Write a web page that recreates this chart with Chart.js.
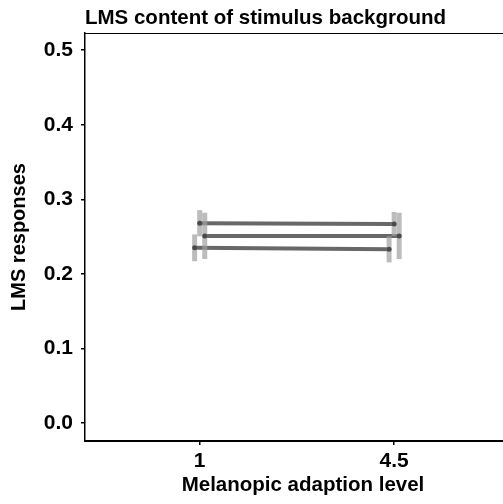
<!DOCTYPE html>
<html>
<head>
<meta charset="utf-8">
<script src="https://cdn.jsdelivr.net/npm/chart.js@4/dist/chart.umd.min.js"></script>
<style>
html,body{margin:0;padding:0;background:#fff;overflow:hidden;}
canvas{display:block;}
</style>
</head>
<body>
<canvas id="c" width="503" height="504"></canvas>
<script>
// ---- data ----
const categories = ["1", "4.5"];
const seriesNames = ["S", "L", "M"];
const seriesLow = [0.235, 0.233];
const seriesHigh = [0.268, 0.267];
const seriesMid = [0.251, 0.251];
const errLow = [0.018, 0.0175];
const errHigh = [0.0175, 0.016];
const errMid = [0.031, 0.031];
const yTicks = [0.0, 0.1, 0.2, 0.3, 0.4, 0.5];

const titleText = "LMS content of stimulus background";
const xTitle = "Melanopic adaption level";
const yTitle = "LMS responses";

const FONT = '"Liberation Sans", Arial, sans-serif';
const series = [
  {name: seriesNames[0], means: seriesLow, errs: errLow},
  {name: seriesNames[1], means: seriesHigh, errs: errHigh},
  {name: seriesNames[2], means: seriesMid, errs: errMid}
];
const dodge = [-0.026, 0, 0.026];

const datasets = [];
series.forEach((s, si) => {
  const pts = s.means.map((m, ci) => ({x: ci + 1 + dodge[si], y: m}));
  datasets.push({
    label: s.name, data: pts, showLine: true, borderColor: '#686868', borderWidth: 4,
    pointRadius: 0, order: 2, borderCapStyle: 'butt'
  });
  s.means.forEach((m, ci) => {
    datasets.push({
      label: s.name + ' err ' + categories[ci],
      data: [{x: ci + 1 + dodge[si], y: m - s.errs[ci]}, {x: ci + 1 + dodge[si], y: m + s.errs[ci]}],
      showLine: true, borderColor: 'rgba(160,160,160,0.7)', borderWidth: 5,
      pointRadius: 0, order: 1, borderCapStyle: 'butt'
    });
  });
  datasets.push({
    label: s.name + ' pts', data: pts, showLine: false,
    pointRadius: 2.5, pointBackgroundColor: '#4a4a4a', pointBorderWidth: 0, order: 0
  });
});

const deco = {
  id: 'deco',
  afterDraw(chart) {
    const {ctx, chartArea} = chart;
    ctx.save();
    ctx.fillStyle = '#000';
    ctx.font = 'bold 20.5px ' + FONT;
    ctx.textBaseline = 'alphabetic';
    ctx.textAlign = 'left';
    ctx.fillText(titleText, chartArea.left, 24);
    ctx.textAlign = 'center';
    ctx.textBaseline = 'middle';
    ctx.fillText(xTitle, 303, 485);
    ctx.strokeStyle = '#000';
    ctx.lineWidth = 1;
    ctx.beginPath();
    ctx.moveTo(chartArea.left, chartArea.top + 0.5);
    ctx.lineTo(chartArea.right, chartArea.top + 0.5);
    ctx.stroke();
    ctx.restore();
  }
};

new Chart(document.getElementById('c'), {
  type: 'scatter',
  data: {datasets},
  plugins: [deco],
  options: {
    responsive: false,
    animation: false,
    devicePixelRatio: 1,
    layout: {autoPadding: false, padding: {top: 33, left: 0, right: 0, bottom: 0}},
    plugins: {legend: {display: false}, tooltip: {enabled: false}, title: {display: false}},
    scales: {
      x: {
        type: 'linear', min: 0.41, max: 2.56,
        afterBuildTicks: (axis) => { axis.ticks = categories.map((c, i) => ({value: i + 1})); },
        afterFit: (scale) => { scale.height = 63; scale.paddingRight = 0; scale.paddingLeft = 0; },
        ticks: {
          callback: (v, i) => categories[i], color: '#000', padding: 4,
          font: {family: FONT, size: 21, weight: 'bold'}, maxRotation: 0, autoSkip: false
        },
        grid: {display: true, drawOnChartArea: false, drawTicks: true, tickLength: 4, color: '#000', lineWidth: 1.5},
        border: {display: true, color: '#000', width: 2},
        title: {display: false}
      },
      y: {
        type: 'linear', min: -0.024, max: 0.523,
        afterBuildTicks: (axis) => { axis.ticks = yTicks.map(v => ({value: v})); },
        afterFit: (scale) => { scale.width = 85; scale.paddingTop = 0; scale.paddingBottom = 0; },
        ticks: {
          callback: (v) => v.toFixed(1), color: '#000', padding: 8,
          font: {family: FONT, size: 21, weight: 'bold'}
        },
        grid: {display: true, drawOnChartArea: false, drawTicks: true, tickLength: 4, color: '#000', lineWidth: 1.5},
        border: {display: true, color: '#000', width: 1.5},
        title: {display: true, text: yTitle, color: '#000', font: {family: FONT, size: 20, weight: 'bold'}, padding: {top: 7, bottom: 0}}
      }
    }
  }
});
</script>
</body>
</html>
